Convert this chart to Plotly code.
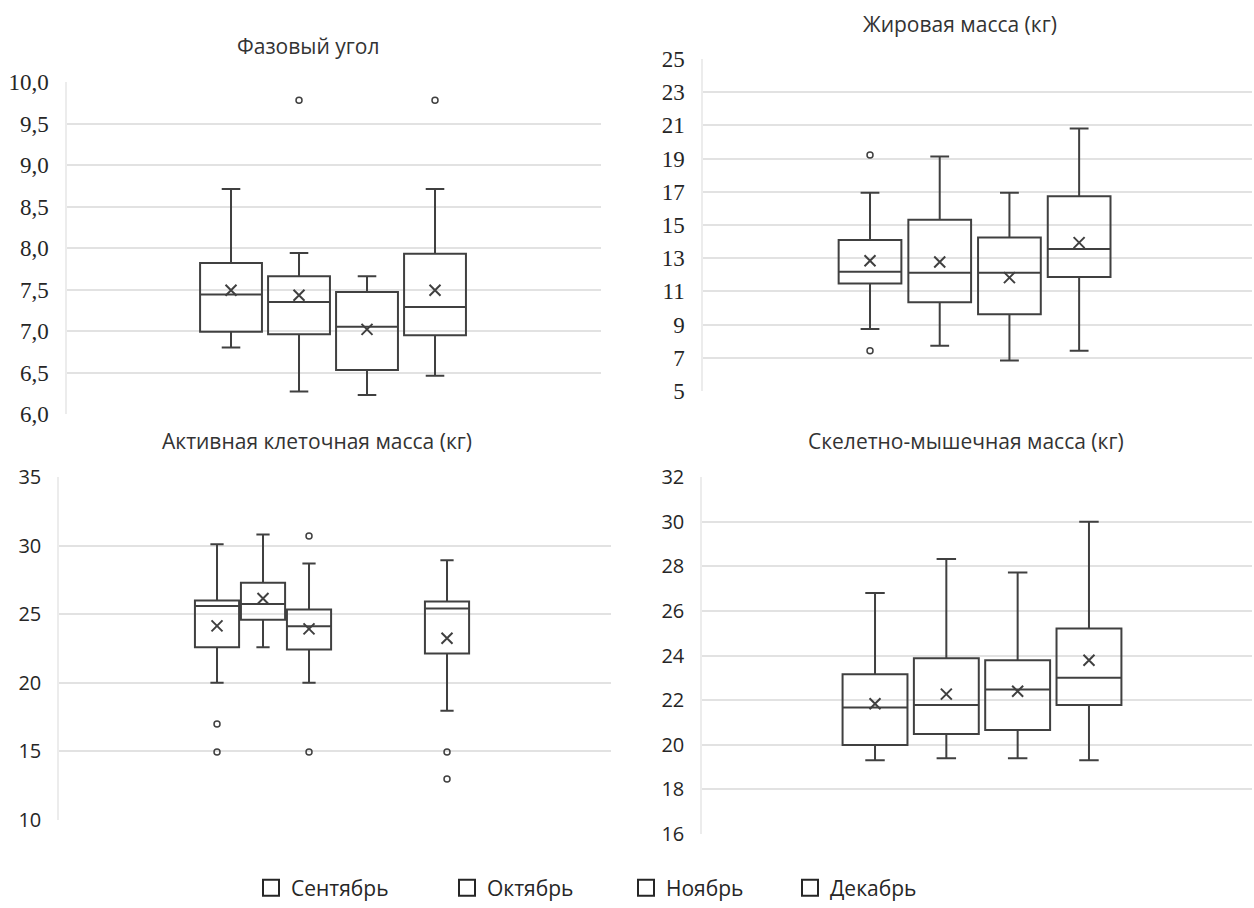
import plotly.graph_objects as go

months = ["Сентябрь", "Октябрь", "Ноябрь", "Декабрь"]
panel_titles = ["Фазовый угол", "Жировая масса (кг)",
                "Активная клеточная масса (кг)", "Скелетно-мышечная масса (кг)"]

# Фазовый угол
pa_lower = [6.80, 6.27, 6.23, 6.46]
pa_q1 = [6.99, 6.96, 6.53, 6.95]
pa_median = [7.44, 7.35, 7.05, 7.29]
pa_q3 = [7.82, 7.66, 7.47, 7.93]
pa_upper = [8.71, 7.94, 7.66, 8.71]
pa_mean = [7.49, 7.43, 7.02, 7.49]
pa_outliers = [[], [9.78], [], [9.78]]

# Жировая масса (кг)
fm_lower = [8.73, 7.73, 6.83, 7.43]
fm_q1 = [11.47, 10.34, 9.62, 11.87]
fm_median = [12.19, 12.13, 12.13, 13.55]
fm_q3 = [14.10, 15.32, 14.24, 16.73]
fm_upper = [16.95, 19.12, 16.95, 20.82]
fm_mean = [12.85, 12.77, 11.83, 13.94]
fm_outliers = [[19.22, 7.43], [], [], []]

# Активная клеточная масса (кг)
acm_lower = [20.0, 22.6, 20.0, 17.96]
acm_q1 = [22.6, 24.6, 22.43, 22.14]
acm_median = [25.6, 25.75, 24.13, 25.41]
acm_q3 = [26.0, 27.3, 25.34, 25.92]
acm_upper = [30.1, 30.8, 28.7, 28.93]
acm_mean = [24.15, 26.14, 23.93, 23.25]
acm_outliers = [[17.0, 14.95], [], [30.7, 14.95], [14.95, 12.99]]

# Скелетно-мышечная масса (кг)
smm_lower = [19.31, 19.40, 19.40, 19.31]
smm_q1 = [19.99, 20.48, 20.66, 21.78]
smm_median = [21.67, 21.78, 22.48, 23.00]
smm_q3 = [23.16, 23.88, 23.79, 25.21]
smm_upper = [26.80, 28.33, 27.72, 30.00]
smm_mean = [21.84, 22.27, 22.40, 23.79]
smm_outliers = [[], [], [], []]

W, H = 1254, 908
LINE = "#404040"
GRID = "#e2e2e2"
SANS = "Open Sans"
SERIF = "Liberation Serif, Times New Roman, serif"

panels = [
    dict(data=(pa_lower, pa_q1, pa_median, pa_q3, pa_upper, pa_mean, pa_outliers),
         px=(67, 601), py=(82, 414), pos=[0, 1, 2, 3], rng=(-2.412, 5.441), bw=0.91,
         yr=(6, 10), dt=0.5, fmt=".1f", font=SERIF, fs=23, tpos=(308, 46)),
    dict(data=(fm_lower, fm_q1, fm_median, fm_q3, fm_upper, fm_mean, fm_outliers),
         px=(703, 1252), py=(59, 391), pos=[0, 1, 2, 3], rng=(-2.396, 5.48), bw=0.90,
         yr=(5, 25), dt=2, fmt="d", font=SERIF, fs=23, tpos=(960, 24)),
    dict(data=(acm_lower, acm_q1, acm_median, acm_q3, acm_upper, acm_mean, acm_outliers),
         px=(59, 611), py=(477, 820), pos=[0, 1, 2, 5], rng=(-3.435, 8.565), bw=0.96,
         yr=(10, 35), dt=5, fmt="d", font=SANS, fs=20, tpos=(317, 441)),
    dict(data=(smm_lower, smm_q1, smm_median, smm_q3, smm_upper, smm_mean, smm_outliers),
         px=(702, 1252), py=(477, 834), pos=[0, 1, 2, 3], rng=(-2.426, 5.286), bw=0.91,
         yr=(16, 32), dt=2, fmt="d", font=SANS, fs=20, tpos=(966, 441)),
]

fig = go.Figure()
layout = {}
annotations = []

for i, p in enumerate(panels):
    k = "" if i == 0 else str(i + 1)
    xa, ya = "x" + k, "y" + k
    lo, q1, med, q3, up, mean, outl = p["data"]
    for j, m in enumerate(months):
        fig.add_trace(go.Box(
            x=[p["pos"][j]], q1=[q1[j]], median=[med[j]], q3=[q3[j]],
            lowerfence=[lo[j]], upperfence=[up[j]],
            width=p["bw"], whiskerwidth=0.3,
            line=dict(color=LINE, width=2), fillcolor="rgba(255,255,255,0)",
            showlegend=False, name=m, xaxis=xa, yaxis=ya, hoverinfo="y"))
        fig.add_trace(go.Scatter(
            x=[p["pos"][j]], y=[mean[j]], mode="markers",
            marker=dict(symbol="x-thin", size=11, line=dict(color=LINE, width=2)),
            showlegend=False, xaxis=xa, yaxis=ya, hoverinfo="y"))
        if outl[j]:
            fig.add_trace(go.Scatter(
                x=[p["pos"][j]] * len(outl[j]), y=outl[j], mode="markers",
                marker=dict(symbol="circle-open", size=6, color=LINE,
                            line=dict(color=LINE, width=1.5)),
                showlegend=False, xaxis=xa, yaxis=ya, hoverinfo="y"))
    layout["xaxis" + k] = dict(
        domain=[p["px"][0] / W, p["px"][1] / W], range=list(p["rng"]),
        anchor=ya, showgrid=False, zeroline=False, showticklabels=False,
        showline=False, fixedrange=True, automargin=False)
    layout["yaxis" + k] = dict(
        domain=[1 - p["py"][1] / H, 1 - p["py"][0] / H], range=list(p["yr"]),
        anchor=xa, tick0=p["yr"][0], dtick=p["dt"], tickformat=p["fmt"],
        showgrid=True, gridcolor=GRID, gridwidth=2, zeroline=False,
        showline=True, linecolor="#ececec", linewidth=1.5,
        ticks="", ticklabelstandoff=12, automargin=False,
        tickfont=dict(family=p["font"], size=p["fs"], color="#262626"),
        fixedrange=True)
    annotations.append(dict(
        text=panel_titles[i], x=p["tpos"][0] / W, y=1 - p["tpos"][1] / H,
        xref="paper", yref="paper", xanchor="center", yanchor="middle",
        showarrow=False, font=dict(family=SANS, size=21, color="#333333")))

# legend entries
legend_left = [263, 459, 638, 802]
for j, m in enumerate(months):
    lk = "legend" if j == 0 else "legend" + str(j + 1)
    fig.add_trace(go.Scatter(
        x=[None], y=[None], mode="markers", name=m,
        marker=dict(symbol="square-open", size=20, color="#262626",
                    line=dict(color="#262626", width=2)),
        showlegend=True, legend=lk))
    layout[lk] = dict(
        x=(legend_left[j] - 12) / W, y=1 - 888 / H, xanchor="left", yanchor="middle",
        orientation="h", bgcolor="rgba(0,0,0,0)",
        font=dict(family=SANS, size=21, color="#262626"))

fig.update_layout(
    width=W, height=H, margin=dict(l=0, r=0, t=0, b=0, autoexpand=False),
    paper_bgcolor="white", plot_bgcolor="white",
    separators=", ", annotations=annotations, **layout)

fig.write_html("out.html", config={"displayModeBar": False},
               post_script="document.body.style.margin='0px';"
                           "document.body.style.overflow='hidden';")
